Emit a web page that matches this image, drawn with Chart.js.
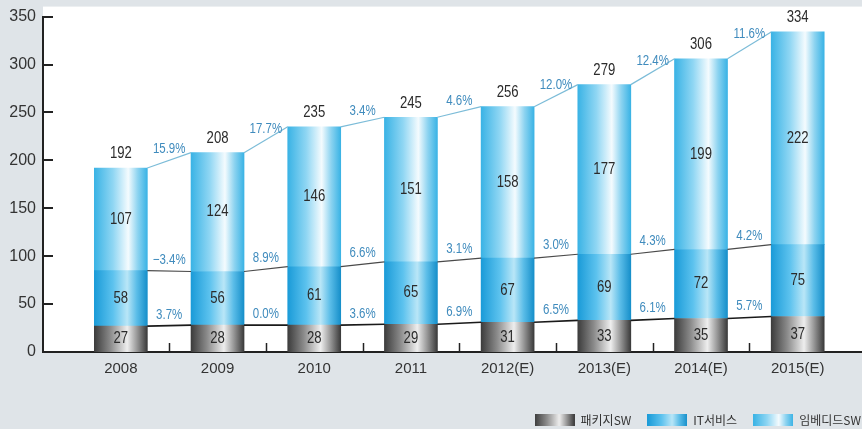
<!DOCTYPE html>
<html>
<head>
<meta charset="utf-8">
<script src="https://cdn.jsdelivr.net/npm/chart.js@4.4.0/dist/chart.umd.min.js"></script>
<style>
  html, body { margin: 0; padding: 0; background: #dfe4e8; }
  #wrap { width: 862px; height: 429px; }
</style>
</head>
<body>
<div id="wrap"><canvas id="chart" width="862" height="429"></canvas></div>
<script>
// values
const years = ['2008', '2009', '2010', '2011', '2012(E)', '2013(E)', '2014(E)', '2015(E)'];
const packageSW = [27, 28, 28, 29, 31, 33, 35, 37];
const itService = [58, 56, 61, 65, 67, 69, 72, 75];
const embeddedSW = [107, 124, 146, 151, 158, 177, 199, 222];
const totals = [192, 208, 235, 245, 256, 279, 306, 334];
const packageGrowth = ['3.7%', '0.0%', '3.6%', '6.9%', '6.5%', '6.1%', '5.7%'];
const itGrowth = ['\u22123.4%', '8.9%', '6.6%', '3.1%', '3.0%', '4.3%', '4.2%'];
const embeddedGrowth = ['15.9%', '17.7%', '3.4%', '4.6%', '12.0%', '12.4%', '11.6%'];
const seriesNames = ['패키지SW', 'IT서비스', '임베디드SW'];

const BAR_W = 53;

const stopsPackage = [[0, '#3c3c3c'], [0.3, '#8a8a8a'], [0.62, '#eeeeee'], [0.8, '#9a9a9a'], [1, '#3a3a3a']];
const stopsIT = [[0, '#1a9bd8'], [0.35, '#5cc2ee'], [0.62, '#b9e6f7'], [0.8, '#5bbde8'], [1, '#168fca']];
const stopsEmb = [[0, '#3ab3e5'], [0.35, '#8fd6f3'], [0.64, '#f4fbfe'], [0.82, '#8cd3f0'], [1, '#3ab3e5']];

function fillStops(g, stops) {
  stops.forEach(s => g.addColorStop(s[0], s[1]));
  return g;
}

function barFill(stops) {
  return (ctx) => {
    const x = ctx.chart.scales.x;
    if (!x || ctx.dataIndex === undefined) return stops[2][1];
    const cx = x.getPixelForValue(ctx.dataIndex);
    if (!isFinite(cx)) return stops[2][1];
    const g = ctx.chart.ctx.createLinearGradient(cx - BAR_W / 2, 0, cx + BAR_W / 2, 0);
    return fillStops(g, stops);
  };
}

function swatch(stops) {
  const c = document.createElement('canvas');
  c.width = 40; c.height = 12;
  const cx = c.getContext('2d');
  cx.fillStyle = fillStops(cx.createLinearGradient(0, 0, 40, 0), stops);
  cx.fillRect(0, 0, 40, 12);
  return c;
}

// condensed text: squeeze Liberation Sans horizontally
function narrowText(ctx, text, x, y, size, color) {
  ctx.save();
  ctx.translate(x, y);
  ctx.scale(0.82, 1);
  ctx.font = size + "px 'Liberation Sans', sans-serif";
  ctx.fillStyle = color;
  ctx.textAlign = 'center';
  ctx.textBaseline = 'middle';
  ctx.fillText(text, 0, 0);
  ctx.restore();
}

const extras = {
  id: 'extras',
  afterLayout(chart) {
    const lg = chart.legend;
    lg.left += 15; lg.right += 15;
    lg.top += 7; lg.bottom += 7;
  },
  beforeDraw(chart) {
    const {ctx, chartArea, scales} = chart;
    ctx.save();
    ctx.fillStyle = '#ffffff';
    const top = scales.y.getPixelForValue(350) - 10;
    ctx.fillRect(chartArea.left, top, chartArea.right - chartArea.left, chartArea.bottom - top);
    ctx.restore();
  },
  afterDatasetsDraw(chart) {
    const {ctx, chartArea, scales} = chart;
    ctx.save();
    // inner tick marks on the y axis
    ctx.strokeStyle = '#222';
    ctx.lineWidth = 2;
    scales.y.ticks.forEach(t => {
      const y = Math.round(scales.y.getPixelForValue(t.value));
      ctx.beginPath();
      ctx.moveTo(chartArea.left, y);
      ctx.lineTo(chartArea.left + 10, y);
      ctx.stroke();
    });
    // small ticks between the categories
    ctx.lineWidth = 1.5;
    for (let i = 0; i < years.length - 1; i++) {
      const x = Math.round(scales.x.getPixelForValue(i + 0.5)) + 0.5;
      ctx.beginPath();
      ctx.moveTo(x, chartArea.bottom);
      ctx.lineTo(x, chartArea.bottom - 9);
      ctx.stroke();
    }
    ctx.restore();

    const metas = [0, 1, 2].map(i => chart.getDatasetMeta(i));
    const lineColors = ['#1a1a1a', '#4a4a4a', '#7cbcd8'];
    const lineWidths = [1.6, 1.2, 1.2];
    const growth = [packageGrowth, itGrowth, embeddedGrowth];

    // connecting lines + growth rates
    metas.forEach((meta, k) => {
      const els = meta.data;
      for (let i = 0; i < els.length - 1; i++) {
        const a = els[i], b = els[i + 1];
        const x1 = a.x + a.width / 2, x2 = b.x - b.width / 2;
        ctx.save();
        ctx.strokeStyle = lineColors[k];
        ctx.lineWidth = lineWidths[k];
        ctx.beginPath();
        ctx.moveTo(x1, a.y);
        ctx.lineTo(x2, b.y);
        ctx.stroke();
        ctx.restore();
        narrowText(ctx, growth[k][i], (x1 + x2) / 2, (a.y + b.y) / 2 - 11, 14, '#3f8bbd');
      }
    });

    // values inside the segments
    const values = [packageSW, itService, embeddedSW];
    metas.forEach((meta, k) => {
      meta.data.forEach((el, i) => {
        narrowText(ctx, String(values[k][i]), el.x, (el.y + el.base) / 2, 16, '#2b2b2b');
      });
    });
    // totals on top
    metas[2].data.forEach((el, i) => {
      narrowText(ctx, String(totals[i]), el.x, el.y - 14, 16, '#2b2b2b');
    });
  }
};

const toPoints = arr => arr.map((v, i) => ({x: i, y: v}));

new Chart(document.getElementById('chart'), {
  type: 'bar',
  data: {
    datasets: [
      {label: seriesNames[0], data: toPoints(packageSW), backgroundColor: barFill(stopsPackage), pointStyle: swatch(stopsPackage)},
      {label: seriesNames[1], data: toPoints(itService), backgroundColor: barFill(stopsIT), pointStyle: swatch(stopsIT)},
      {label: seriesNames[2], data: toPoints(embeddedSW), backgroundColor: barFill(stopsEmb), pointStyle: swatch(stopsEmb)}
    ]
  },
  options: {
    responsive: false,
    animation: false,
    devicePixelRatio: 1,
    barThickness: BAR_W,
    borderWidth: 0,
    layout: {padding: {top: 15, left: 0, right: 0, bottom: 0}},
    plugins: {
      tooltip: {enabled: false},
      legend: {
        position: 'bottom',
        align: 'end',
        labels: {
          usePointStyle: true,
          pointStyleWidth: 40,
          padding: 16,
          color: '#333',
          font: {family: "'Noto Sans CJK KR', sans-serif", size: 12}
        }
      }
    },
    scales: {
      x: {
        type: 'linear',
        offset: false,
        min: -0.805,
        max: 7.665,
        stacked: true,
        grid: {display: false, drawTicks: false, offset: false},
        border: {display: true, color: '#222', width: 2},
        afterBuildTicks: s => { s.ticks = years.map((_, i) => ({value: i})); },
        afterFit: s => { s.height = 39; },
        ticks: {
          padding: 8,
          color: '#333',
          font: {family: "'Liberation Sans', sans-serif", size: 15},
          callback: v => years[v]
        }
      },
      y: {
        min: 0,
        max: 350,
        stacked: true,
        grid: {display: false, drawTicks: false},
        border: {display: true, color: '#222', width: 2},
        afterFit: s => { s.width = 43; },
        ticks: {
          stepSize: 50,
          padding: 7,
          color: '#333',
          font: {family: "'Liberation Sans', sans-serif", size: 16}
        }
      }
    }
  },
  plugins: [extras]
});
</script>
</body>
</html>
